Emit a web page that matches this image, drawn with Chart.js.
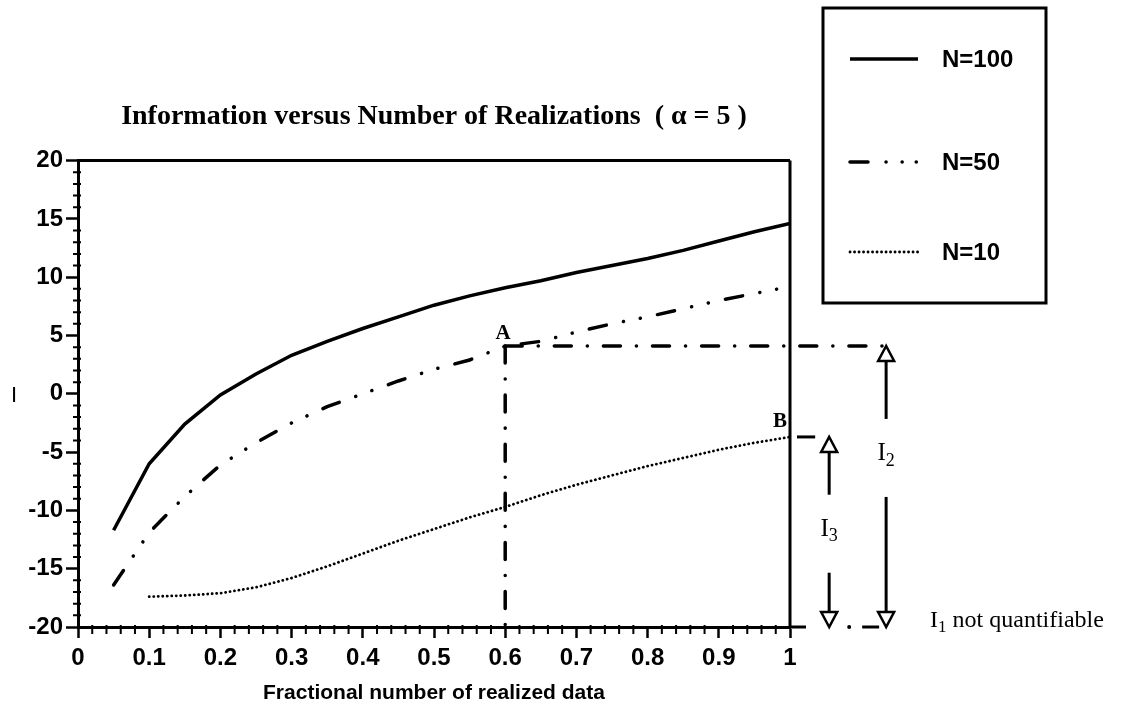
<!DOCTYPE html>
<html>
<head>
<meta charset="utf-8">
<title>Information versus Number of Realizations</title>
<script src="https://cdn.jsdelivr.net/npm/chart.js@4.4.1/dist/chart.umd.min.js"></script>
<style>
  html, body { margin: 0; padding: 0; background: #fff; }
  #wrap { position: relative; width: 1122px; height: 706px; }
</style>
</head>
<body>
<div id="wrap"><canvas id="infoChart" width="1122" height="706"></canvas></div>
<script>
// fraction of realized data and the information I for each ensemble size
const fractions = [0.05, 0.1, 0.15, 0.2, 0.25, 0.3, 0.35, 0.4, 0.45, 0.5, 0.55, 0.6, 0.65, 0.7, 0.75, 0.8, 0.85, 0.9, 0.95, 1.0];
const infoN100 = [-11.7, -6.0, -2.6, -0.1, 1.7, 3.3, 4.5, 5.6, 6.6, 7.6, 8.4, 9.1, 9.7, 10.4, 11.0, 11.6, 12.3, 13.1, 13.9, 14.6];
const infoN50 = [-16.4, -11.9, -8.8, -6.1, -4.2, -2.5, -1.1, 0.0, 1.1, 2.1, 2.9, 4.1, 4.5, 5.3, 6.0, 6.6, 7.3, 8.0, 8.6, 9.2];
const infoN10 = [null, -17.4, -17.3, -17.1, -16.6, -15.8, -14.8, -13.7, -12.6, -11.6, -10.6, -9.7, -8.7, -7.8, -7.0, -6.2, -5.5, -4.8, -4.2, -3.7];
const seriesLabels = ['N=100', 'N=50', 'N=10'];
const xTickLabels = ['0', '0.1', '0.2', '0.3', '0.4', '0.5', '0.6', '0.7', '0.8', '0.9', '1'];
const yTickLabels = ['-20', '-15', '-10', '-5', '0', '5', '10', '15', '20'];

// read-off points and the information arrows to the right of the plot
const markA = 0.6;      // on the N=50 curve
const markB = 1.0;      // on the N=10 curve
const arrowI3X = 1.055;
const arrowI2X = 1.135;
const labelI3Y = -12;
const labelI2Y = -5.5;

const SANS = '"Liberation Sans", Arial, sans-serif';
const SERIF = '"Liberation Serif", "Times New Roman", serif';

function valueAt(series, fx) {
  return series[fractions.indexOf(fx)];
}

function toPoints(series) {
  return fractions.map((f, i) => ({ x: f, y: series[i] }));
}

function segment(ctx, x1, y1, x2, y2, width, dash) {
  ctx.save();
  ctx.strokeStyle = '#000';
  ctx.lineWidth = width;
  ctx.lineCap = dash ? 'round' : 'butt';
  ctx.setLineDash(dash || []);
  ctx.beginPath();
  ctx.moveTo(x1, y1);
  ctx.lineTo(x2, y2);
  ctx.stroke();
  ctx.restore();
}

function dot(ctx, x, y, r) {
  ctx.save();
  ctx.fillStyle = '#000';
  ctx.beginPath();
  ctx.arc(x, y, r, 0, Math.PI * 2);
  ctx.fill();
  ctx.restore();
}

// open arrow head, dir -1 points up, +1 points down
function openHead(ctx, x, tipY, dir) {
  const h = 15, w = 8;
  ctx.save();
  ctx.beginPath();
  ctx.moveTo(x, tipY);
  ctx.lineTo(x - w, tipY - dir * h);
  ctx.lineTo(x + w, tipY - dir * h);
  ctx.closePath();
  ctx.fillStyle = '#fff';
  ctx.fill();
  ctx.lineWidth = 2.5;
  ctx.lineJoin = 'miter';
  ctx.strokeStyle = '#000';
  ctx.stroke();
  ctx.restore();
}

// "I" with a subscript digit, x is the left edge
function subscripted(ctx, sub, x, y, size) {
  ctx.save();
  ctx.fillStyle = '#000';
  ctx.textAlign = 'left';
  ctx.textBaseline = 'middle';
  ctx.font = size + 'px ' + SERIF;
  ctx.fillText('I', x, y);
  const w = ctx.measureText('I').width;
  ctx.font = Math.round(size * 0.72) + 'px ' + SERIF;
  ctx.fillText(sub, x + w, y + size * 0.28);
  const total = w + ctx.measureText(sub).width;
  ctx.restore();
  return total;
}

function subscriptWidth(ctx, sub, size) {
  ctx.save();
  ctx.font = size + 'px ' + SERIF;
  const w = ctx.measureText('I').width;
  ctx.font = Math.round(size * 0.72) + 'px ' + SERIF;
  const total = w + ctx.measureText(sub).width;
  ctx.restore();
  return total;
}

function infoArrow(ctx, x, topY, bottomY, labelY, sub) {
  const head = 15, gap = 39;
  segment(ctx, x, topY + head, x, labelY - gap, 3);
  segment(ctx, x, labelY + gap, x, bottomY - head, 3);
  openHead(ctx, x, topY, -1);
  openHead(ctx, x, bottomY, 1);
  const w = subscriptWidth(ctx, sub, 25);
  subscripted(ctx, sub, x - w / 2, labelY - 4, 25);
}

// box on top and right, plus the small ticks between labelled ones
const framePlugin = {
  id: 'frame',
  afterDraw(chart) {
    const { ctx, chartArea: a, scales: { x, y } } = chart;
    segment(ctx, a.left, a.top, a.right, a.top, 3);
    segment(ctx, a.right, a.top, a.right, a.bottom, 3);
    ctx.save();
    ctx.strokeStyle = '#000';
    ctx.lineWidth = 2;
    ctx.beginPath();
    for (let v = y.min; v <= y.max; v++) {
      if (v % 5 === 0) continue;
      const py = y.getPixelForValue(v);
      ctx.moveTo(a.left - 5, py);
      ctx.lineTo(a.left + 3, py);
    }
    for (let i = 0; i <= 50; i++) {
      if (i % 5 === 0) continue;
      const px = x.getPixelForValue(i / 50);
      ctx.moveTo(px, a.bottom - 2);
      ctx.lineTo(px, a.bottom + 7);
    }
    ctx.stroke();
    ctx.restore();

    // upright "I" beside the vertical axis
    ctx.save();
    ctx.fillStyle = '#000';
    ctx.font = '22px ' + SANS;
    ctx.textAlign = 'center';
    ctx.textBaseline = 'middle';
    ctx.fillText('I', 14, y.getPixelForValue(0) + 2);
    ctx.restore();
  }
};

const readingsPlugin = {
  id: 'readings',
  afterDraw(chart) {
    const { ctx, chartArea: a, scales: { x, y } } = chart;
    const ax = x.getPixelForValue(markA);
    const ay = y.getPixelForValue(valueAt(infoN50, markA));
    const bx = x.getPixelForValue(markB);
    const by = y.getPixelForValue(valueAt(infoN10, markB));
    const floorY = y.getPixelForValue(y.min);
    const i2x = x.getPixelForValue(arrowI2X);
    const i3x = x.getPixelForValue(arrowI3X);
    const guide = [17, 16, 0.1, 16];

    segment(ctx, ax, ay, ax, floorY, 3.5, guide);
    segment(ctx, ax, ay, i2x, ay, 3.5, guide);
    segment(ctx, bx + 7, by, i3x - 14, by, 3);

    // floor line carried out past the axis end to the I2 head
    segment(ctx, a.right, floorY, a.right + 16, floorY, 3);
    dot(ctx, i3x + 20, floorY, 2);
    segment(ctx, i3x + 33, floorY, i2x - 7, floorY, 3);

    infoArrow(ctx, i2x, ay, floorY, y.getPixelForValue(labelI2Y), '2');
    infoArrow(ctx, i3x, by, floorY, y.getPixelForValue(labelI3Y), '3');

    ctx.save();
    ctx.fillStyle = '#000';
    ctx.font = 'bold 21px ' + SERIF;
    ctx.textAlign = 'center';
    ctx.textBaseline = 'middle';
    ctx.fillText('A', ax - 2, ay - 12);
    ctx.fillText('B', bx - 10, by - 15);
    ctx.restore();

    const tx = i2x + 44;
    const w = subscripted(ctx, '1', tx, floorY - 6, 24);
    ctx.save();
    ctx.fillStyle = '#000';
    ctx.font = '24px ' + SERIF;
    ctx.textAlign = 'left';
    ctx.textBaseline = 'middle';
    ctx.fillText(' not quantifiable', tx + w, floorY - 6);
    ctx.restore();
  }
};

// boxed key in the upper right corner
const legendBox = { left: 823, top: 8, right: 1046, bottom: 303 };
const legendRows = [59, 162, 252];

const keyPlugin = {
  id: 'key',
  afterDraw(chart) {
    const ctx = chart.ctx;
    ctx.save();
    ctx.strokeStyle = '#000';
    ctx.lineWidth = 3;
    ctx.strokeRect(legendBox.left, legendBox.top, legendBox.right - legendBox.left, legendBox.bottom - legendBox.top);
    chart.data.datasets.forEach((ds, i) => {
      const yy = legendRows[i];
      ctx.save();
      ctx.lineWidth = ds.borderWidth;
      ctx.lineCap = ds.borderCapStyle || 'butt';
      ctx.setLineDash(ds.keyDash || ds.borderDash || []);
      ctx.beginPath();
      ctx.moveTo(legendBox.left + 27, yy);
      ctx.lineTo(legendBox.left + 95, yy);
      ctx.stroke();
      ctx.restore();
      ctx.fillStyle = '#000';
      ctx.font = 'bold 24px ' + SANS;
      ctx.textAlign = 'left';
      ctx.textBaseline = 'middle';
      ctx.fillText(ds.label, legendBox.left + 119, yy + 1);
    });
    ctx.restore();
  }
};

const tickFont = { family: SANS, size: 24, weight: 'bold' };

new Chart(document.getElementById('infoChart').getContext('2d'), {
  type: 'line',
  data: {
    datasets: [
      {
        label: seriesLabels[0],
        data: toPoints(infoN100),
        borderColor: '#000',
        borderWidth: 3.5,
        pointRadius: 0,
        tension: 0
      },
      {
        label: seriesLabels[1],
        data: toPoints(infoN50),
        borderColor: '#000',
        borderWidth: 3.5,
        borderDash: [17.5, 17.5, 0.1, 17, 0.1, 17.5],
        keyDash: [18, 18, 0.1, 16, 0.1, 14, 0.1, 40],
        borderCapStyle: 'round',
        pointRadius: 0,
        tension: 0
      },
      {
        label: seriesLabels[2],
        data: toPoints(infoN10),
        borderColor: '#000',
        borderWidth: 2.8,
        borderDash: [0.1, 4.4],
        borderCapStyle: 'round',
        pointRadius: 0,
        tension: 0
      }
    ]
  },
  options: {
    responsive: false,
    animation: false,
    layout: { padding: { left: 0, right: 332, top: 0, bottom: 0 } },
    plugins: {
      legend: { display: false },
      tooltip: { enabled: false },
      title: {
        display: true,
        fullSize: false,
        text: 'Information versus Number of Realizations  ( \u03b1 = 5 )',
        color: '#000',
        font: { family: SERIF, size: 28, weight: 'bold' },
        padding: { top: 100, bottom: 27 }
      }
    },
    scales: {
      x: {
        type: 'linear',
        min: 0,
        max: 1,
        afterFit: s => { s.height = 79; },
        border: { display: true, color: '#000', width: 3 },
        grid: { drawOnChartArea: false, drawTicks: true, tickLength: 11, tickWidth: 2.5, tickColor: '#000' },
        ticks: {
          stepSize: 0.1,
          autoSkip: false,
          maxRotation: 0,
          padding: 6,
          color: '#000',
          font: tickFont,
          callback: (v, i) => xTickLabels[i]
        },
        title: {
          display: true,
          text: 'Fractional number of realized data',
          color: '#000',
          font: { family: SANS, size: 21, weight: 'bold' },
          padding: { top: 0, bottom: 0 }
        }
      },
      y: {
        min: -20,
        max: 20,
        afterFit: s => { s.width = 78; },
        border: { display: true, color: '#000', width: 3 },
        grid: { drawOnChartArea: false, drawTicks: true, tickLength: 12, tickWidth: 2.5, tickColor: '#000' },
        ticks: {
          stepSize: 5,
          padding: 3,
          color: '#000',
          font: tickFont,
          callback: (v, i) => yTickLabels[i]
        }
      }
    }
  },
  plugins: [framePlugin, readingsPlugin, keyPlugin]
});
</script>
</body>
</html>
